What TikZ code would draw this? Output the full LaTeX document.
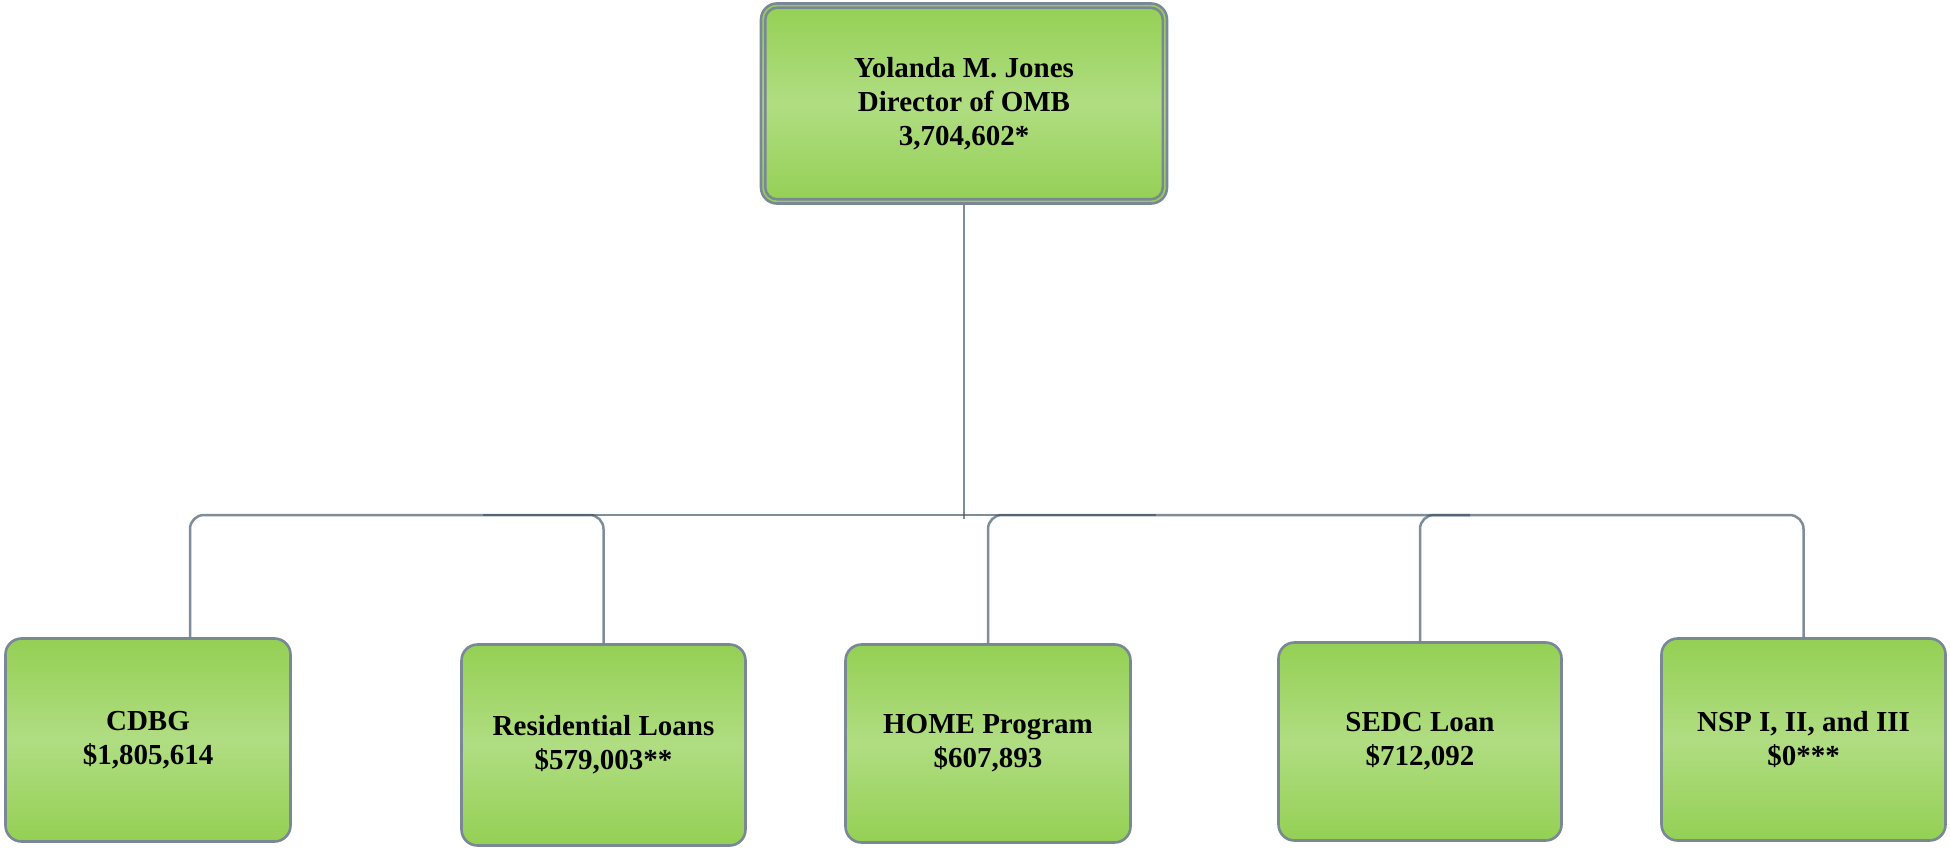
\documentclass[tikz,border=0pt]{standalone}
\usepackage{fontspec}
\setmainfont{Liberation Serif}
\definecolor{leaf}{RGB}{148,208,84}
\definecolor{leaflight}{RGB}{176,221,130}
\definecolor{boxedge}{RGB}{122,136,150}
\definecolor{linkgray}{RGB}{58,79,99}
\begin{document}
\begin{tikzpicture}[x=1pt,y=-1pt,
  greenbox/.style={draw=boxedge, line width=2.6pt, rounded corners=16pt,
    top color=leaf, bottom color=leaf, middle color=leaflight,
    align=center, inner sep=0pt, text=black,
    font=\fontsize{29}{34}\selectfont\bfseries},
  conn/.style={draw=linkgray, line width=2.5pt, draw opacity=0.65}]
\useasboundingbox (0,0) rectangle (1950,850);

% director box with its inner frame
\node[greenbox, minimum width=406pt, minimum height=200pt] (top) at (964,103.5)
  {Yolanda M. Jones\\Director of OMB\\3,704,602*};
\draw[draw=boxedge, line width=2.6pt, rounded corners=12pt]
  ([xshift=5.5pt,yshift=-5.5pt]top.north west) rectangle ([xshift=-5.5pt,yshift=5.5pt]top.south east);

% program boxes
\node[greenbox, minimum width=285pt, minimum height=203pt] (cdbg) at (148,740) {CDBG\\\$1,805,614};
\node[greenbox, minimum width=284pt, minimum height=201pt] (res) at (603.5,745) {Residential Loans\\\$579,003**};
\node[greenbox, minimum width=285pt, minimum height=198pt] (home) at (988,743.5) {HOME Program\\\$607,893};
\node[greenbox, minimum width=283pt, minimum height=198pt] (sedc) at (1420,741.5) {SEDC Loan\\\$712,092};
\node[greenbox, minimum width=284pt, minimum height=202pt] (nsp) at (1803.5,739.5) {NSP I, II, and III\\\$0***};

% connector bus
\coordinate (hub) at (964,519);
\coordinate (busL) at (483,515);
\coordinate (busR) at (1156,515);
\coordinate (sedcEnd) at (1470,515);

\draw[conn] (top.south) -- (top.south |- hub);
\draw[conn, rounded corners=14pt] ([xshift=42pt]cdbg.north) |- (busL -| res.north) -- (res.north);
\draw[conn, rounded corners=14pt] (home.north) |- (busL -| nsp.north) -- (nsp.north);
\draw[conn, rounded corners=14pt] (sedc.north) |- (sedcEnd);
\draw[conn] (busL) -- (busR);
\end{tikzpicture}
\end{document}
